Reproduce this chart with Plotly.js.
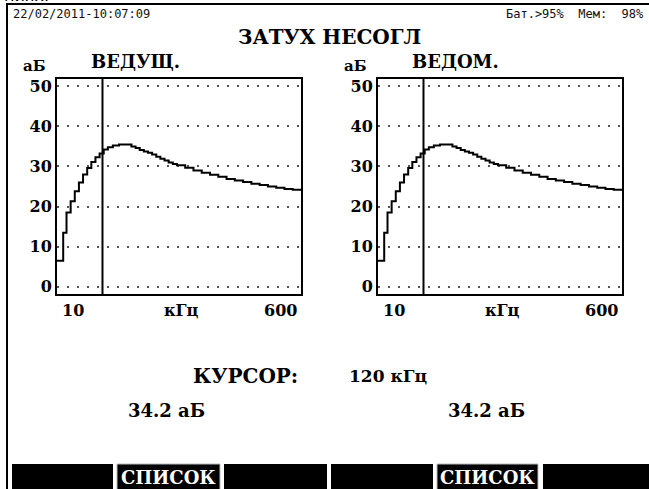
<!DOCTYPE html>
<html><head><meta charset="utf-8">
<script src="https://cdn.plot.ly/plotly-3.0.1.min.js"></script>
<style>html,body{margin:0;padding:0;background:#fff}#chart{width:649px;height:489px}</style>
</head><body><div id="chart"></div>
<script>
// ---- data ----
const freqKHz = [10, 25, 33, 43, 53, 63, 73, 83, 93, 103, 113, 123, 133, 145, 160, 175, 190, 200, 210, 220, 230, 240, 250, 260, 270, 280, 290, 300, 320, 340, 360, 380, 400, 420, 440, 460, 480, 500, 520, 540, 560, 580, 600];
const masterDb = [6.5, 13.5, 18.5, 21.3, 23.8, 26, 28, 29.6, 31.1, 32.3, 33.2, 34.2, 34.8, 35.2, 35.5, 35.5, 35.0, 34.6, 34.1, 33.7, 33.4, 33.0, 32.4, 31.9, 31.5, 31.0, 30.6, 30.3, 29.7, 29.0, 28.4, 27.9, 27.4, 26.9, 26.5, 26.1, 25.7, 25.4, 25.0, 24.7, 24.4, 24.2, 24.0];
const slaveDb  = [6.5, 13.5, 18.5, 21.3, 23.8, 26, 28, 29.6, 31.1, 32.3, 33.2, 34.2, 34.8, 35.2, 35.5, 35.5, 35.0, 34.6, 34.1, 33.7, 33.4, 33.0, 32.4, 31.9, 31.5, 31.0, 30.6, 30.3, 29.7, 29.0, 28.4, 27.9, 27.4, 26.9, 26.5, 26.1, 25.7, 25.4, 25.0, 24.7, 24.4, 24.2, 24.0];
const yTicks = [0, 10, 20, 30, 40, 50];
const xTickLabels = ["10", "600"];
const xRange = [10, 600];
const cursorKHz = 120;
const cursorMaster = "34.2 аБ";
const cursorSlave = "34.2 аБ";
const panelTitles = ["ВЕДУЩ.", "ВЕДОМ."];
const buttonLabels = ["", "СПИСОК", "", "", "СПИСОК", ""];

// ---- helpers for layout positions (pixels -> paper) ----
const W = 649, H = 489;
const px = x => x / W;
const py = y => 1 - y / H;
const serif = "DejaVu Serif, Liberation Serif, serif";
const mono = "DejaVu Sans Mono, Liberation Mono, monospace";

const line = {color: "#000", width: 2, shape: "hv"};
const traces = [
  {x: freqKHz, y: masterDb, type: "scatter", mode: "lines", line: line, xaxis: "x", yaxis: "y", hoverinfo: "skip"},
  {x: freqKHz, y: slaveDb, type: "scatter", mode: "lines", line: line, xaxis: "x2", yaxis: "y2", hoverinfo: "skip"}
];

const yDom = [py(294), py(79)];
function xa(dom) {
  return {domain: dom, range: xRange, showgrid: false, zeroline: false, showticklabels: false,
    ticks: "", showline: true, mirror: true, linecolor: "#000", linewidth: 2, fixedrange: true};
}
function ya(dom, anchor) {
  return {domain: dom, anchor: anchor, range: [-1.8, 51.8], tickvals: yTicks, ticks: "",
    showgrid: true, gridcolor: "#555", gridwidth: 2, griddash: "2px,8px", zeroline: false,
    showline: true, mirror: true, linecolor: "#000", linewidth: 2,
    tickfont: {family: serif, size: 16, color: "#000", weight: "bold"}, fixedrange: true};
}

const annotations = [];
function txt(text, x, y, size, family, xanchor, color, weight) {
  annotations.push({text: text, x: px(x), y: py(y), xref: "paper", yref: "paper", showarrow: false,
    xanchor: xanchor || "left", yanchor: "middle",
    font: {family: family || serif, size: size, color: color || "#000", weight: weight || "bold"}});
}
txt("ниях.", 2, -4, 16, "DejaVu Sans, sans-serif", "left", "#000", "normal");
txt("22/02/2011-10:07:09", 11, 14, 12, mono, "left", "#111", "normal");
txt("Бат.>95%  Мем:  98%", 504, 14, 12, mono, "left", "#111", "normal");
txt("ЗАТУХ НЕСОГЛ", 329, 37, 20, serif, "center");

const panelOffsets = [0, 321];
const axisNames = [["x", "y"], ["x2", "y2"]];
panelOffsets.forEach((o, i) => {
  txt("аБ", 21 + o, 66, 15, serif, "left");
  txt(panelTitles[i], 89 + o, 62, 18, serif, "left");
  annotations.push({text: xTickLabels[0], x: xRange[0], xref: axisNames[i][0], y: py(310), yref: "paper",
    showarrow: false, xanchor: "left", xshift: 3, yanchor: "middle",
    font: {family: serif, size: 16, color: "#000", weight: "bold"}});
  annotations.push({text: xTickLabels[1], x: xRange[1], xref: axisNames[i][0], y: py(310), yref: "paper",
    showarrow: false, xanchor: "right", xshift: -2, yanchor: "middle",
    font: {family: serif, size: 16, color: "#000", weight: "bold"}});
  txt("кГц", 181 + o, 310, 16, serif, "center");
});

txt("КУРСОР:", 191, 376, 20, serif, "left");
txt(cursorKHz + " кГц", 347, 376, 17, serif, "left");
txt(cursorMaster, 126, 410, 18, serif, "left");
txt(cursorSlave, 446, 410, 18, serif, "left");

const shapes = [
  {type: "line", xref: "paper", yref: "paper", x0: px(7), x1: px(7), y0: py(4), y1: py(492), line: {color: "#000", width: 2}},
  {type: "line", xref: "paper", yref: "paper", x0: px(6), x1: px(652), y0: py(4), y1: py(4), line: {color: "#000", width: 2}},
  {type: "line", xref: "x", yref: "y domain", x0: cursorKHz, x1: cursorKHz, y0: 0, y1: 1, line: {color: "#000", width: 2}},
  {type: "line", xref: "x2", yref: "y2 domain", x0: cursorKHz, x1: cursorKHz, y0: 0, y1: 1, line: {color: "#000", width: 2}}
];
const btnX = [[12, 113], [117, 220], [224, 327], [331, 433], [437, 538], [543, 652]];
btnX.forEach((b, i) => {
  shapes.push({type: "rect", xref: "paper", yref: "paper", x0: px(b[0]), x1: px(b[1]), y0: py(492), y1: py(464),
    fillcolor: "#000", line: {width: buttonLabels[i] ? 1 : 0, color: "#bbb"}, layer: "above"});
  if (buttonLabels[i]) txt(buttonLabels[i], (b[0] + b[1]) / 2, 477, 18, serif, "center", "#fff");
});

const layout = {
  width: W, height: H, margin: {l: 0, r: 0, t: 0, b: 0}, showlegend: false,
  paper_bgcolor: "#fff", plot_bgcolor: "#fff",
  xaxis: Object.assign(xa([px(57), px(301)]), {anchor: "y"}),
  yaxis: ya(yDom, "x"),
  xaxis2: Object.assign(xa([px(378), px(622)]), {anchor: "y2"}),
  yaxis2: ya(yDom, "x2"),
  annotations: annotations, shapes: shapes
};
Plotly.newPlot("chart", traces, layout, {staticPlot: true, displayModeBar: false});
</script></body></html>
